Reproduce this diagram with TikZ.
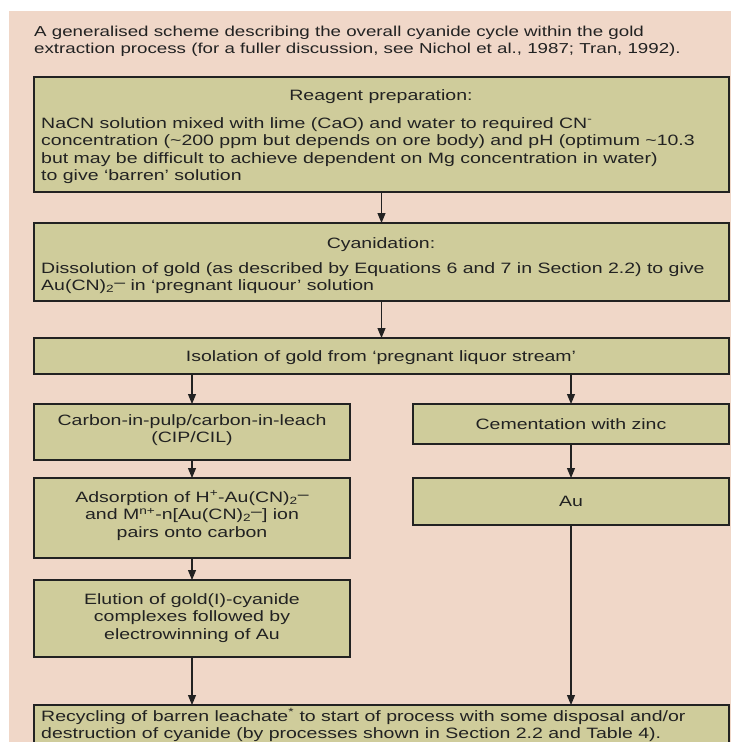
\documentclass[tikz,border=0pt]{standalone}
\usepackage{fontspec}
\setmainfont{Liberation Sans}[FakeStretch=1.3]
\usetikzlibrary{arrows.meta}
\definecolor{bgpink}{HTML}{F0D7C8}
\definecolor{boxfill}{HTML}{CFCC9B}
\definecolor{ink}{HTML}{222222}
\newcommand{\ionminus}{\raisebox{0.35ex}{–}}
\begin{document}
\begin{tikzpicture}[x=1pt,y=-1pt,
  stagebox/.style={draw=ink, fill=boxfill, line width=1.2pt, rectangle,
    anchor=north west, inner sep=0pt, outer sep=0pt},
  flow/.style={draw=ink, line width=1.1pt, -{Triangle[length=10pt,width=8pt]}},
  txt/.style={text=ink, font=\fontsize{15}{17.5}\selectfont, inner sep=0pt},
  captxt/.style={txt, anchor=base west, font=\fontsize{14.4}{17}\selectfont},
  lefttxt/.style={txt, anchor=base west},
  midtxt/.style={txt, anchor=base},
]
\useasboundingbox (0,0) rectangle (731,742);
\clip (0,0) rectangle (731,742);
\fill[bgpink] (9,11) rectangle (731,742);

% caption
\node[captxt] (cap1) at (34,36) {A generalised scheme describing the overall cyanide cycle within the gold};
\node[captxt] (cap2) at (34,53) {extraction process (for a fuller discussion, see Nichol et al., 1987; Tran, 1992).};

% stage boxes
\node[stagebox, minimum width=695pt, minimum height=115pt] (reag) at (34,77) {};
\node[stagebox, minimum width=695pt, minimum height=78pt]  (cyan) at (34,223) {};
\node[stagebox, minimum width=695pt, minimum height=36pt]  (iso)  at (34,338) {};
\node[stagebox, minimum width=316pt, minimum height=56pt]  (cip)  at (34,404) {};
\node[stagebox, minimum width=316pt, minimum height=40pt]  (cem)  at (413,404) {};
\node[stagebox, minimum width=316pt, minimum height=80pt]  (ads)  at (34,478) {};
\node[stagebox, minimum width=316pt, minimum height=47pt]  (au)   at (413,478) {};
\node[stagebox, minimum width=316pt, minimum height=77pt]  (elu)  at (34,580) {};
\node[stagebox, minimum width=695pt, minimum height=60pt]  (rec)  at (34,705) {};

% reagent preparation
\node[midtxt] (reagT) at (381,100) {Reagent preparation:};
\node[lefttxt] (reag1) at (41,128) {NaCN solution mixed with lime (CaO) and water to required CN\textsuperscript{-}};
\node[lefttxt] (reag2) at (41,145.5) {concentration (\textasciitilde200 ppm but depends on ore body) and pH (optimum \textasciitilde10.3};
\node[lefttxt] (reag3) at (41,163) {but may be difficult to achieve dependent on Mg concentration in water)};
\node[lefttxt] (reag4) at (41,180.5) {to give ‘barren’ solution};

% cyanidation
\node[midtxt] (cyanT) at (381,248) {Cyanidation:};
\node[lefttxt] (cyan1) at (41,273) {Dissolution of gold (as described by Equations 6 and 7 in Section 2.2) to give};
\node[lefttxt] (cyan2) at (41,290.5) {Au(CN)\textsubscript{2}\ionminus{} in ‘pregnant liquour’ solution};

% isolation
\node[midtxt] (isoT) at (381,361) {Isolation of gold from ‘pregnant liquor stream’};

% left column
\node[midtxt] (cip1) at (192,425) {Carbon-in-pulp/carbon-in-leach};
\node[midtxt] (cip2) at (192,442.5) {(CIP/CIL)};
\node[midtxt] (ads1) at (192,502) {Adsorption of H\textsuperscript{+}-Au(CN)\textsubscript{2}\ionminus};
\node[midtxt] (ads2) at (192,519.5) {and M\textsuperscript{n+}-n[Au(CN)\textsubscript{2}\ionminus] ion};
\node[midtxt] (ads3) at (192,537) {pairs onto carbon};
\node[midtxt] (elu1) at (192,604) {Elution of gold(I)-cyanide};
\node[midtxt] (elu2) at (192,621.5) {complexes followed by};
\node[midtxt] (elu3) at (192,639) {electrowinning of Au};

% right column
\node[midtxt] (cemT) at (571,429) {Cementation with zinc};
\node[midtxt] (auT) at (571,506) {Au};

% recycling
\node[lefttxt] (rec1) at (41,721) {Recycling of barren leachate\textsuperscript{*} to start of process with some disposal and/or};
\node[lefttxt] (rec2) at (41,738) {destruction of cyanide (by processes shown in Section 2.2 and Table 4).};

% connectors
\draw[flow] (reag.south) -- (cyan.north);
\draw[flow] (cyan.south) -- (iso.north);
\draw[flow] (iso.south -| cip.north) -- (cip.north);
\draw[flow] (iso.south -| cem.north) -- (cem.north);
\draw[flow] (cip.south) -- (ads.north);
\draw[flow] (cem.south) -- (au.north);
\draw[flow] (ads.south) -- (elu.north);
\draw[flow] (elu.south) -- (elu.south |- rec.north);
\draw[flow] (au.south) -- (au.south |- rec.north);
\end{tikzpicture}
\end{document}
